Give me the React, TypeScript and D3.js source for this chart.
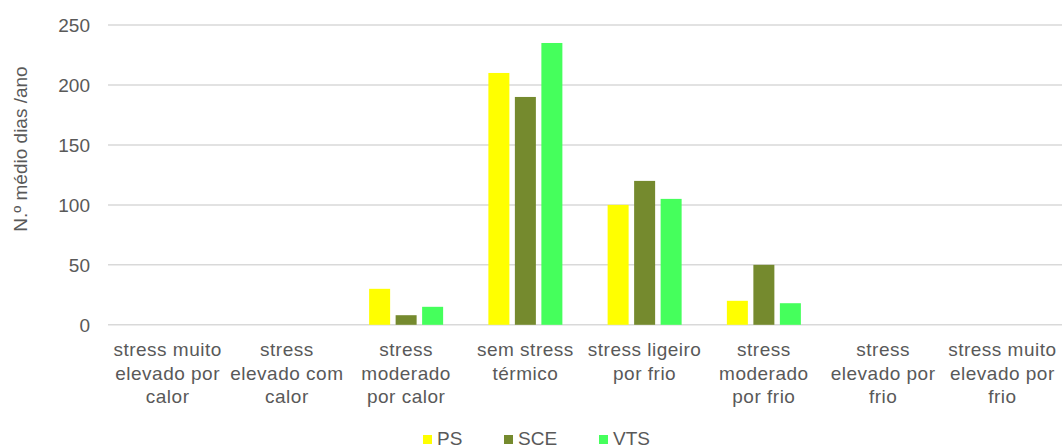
import React from "react";
import * as d3 from "d3";

const categories: string[][] = [
  ["stress muito", "elevado por", "calor"],
  ["stress", "elevado com", "calor"],
  ["stress", "moderado", "por calor"],
  ["sem stress", "térmico"],
  ["stress ligeiro", "por frio"],
  ["stress", "moderado", "por frio"],
  ["stress", "elevado por", "frio"],
  ["stress muito", "elevado por", "frio"],
];
const seriesNames = ["PS", "SCE", "VTS"];
const seriesColors = ["#FFFF00", "#758A2E", "#45FF5C"];
const psValues = [0, 0, 30, 210, 100, 20, 0, 0];
const sceValues = [0, 0, 8, 190, 120, 50, 0, 0];
const vtsValues = [0, 0, 15, 235, 105, 18, 0, 0];
const yTicks = [0, 50, 100, 150, 200, 250];
const yTitle = "N.º médio dias /ano";

const W = 1062;
const H = 448;
const FONT = "'Liberation Sans', Arial, sans-serif";
const TEXT = "#595959";

export default function App() {
  const seriesValues = [psValues, sceValues, vtsValues];
  const x = d3
    .scaleBand<number>()
    .domain(d3.range(categories.length))
    .range([108, 1062])
    .padding(0);
  const x1 = d3
    .scaleBand<string>()
    .domain(seriesNames)
    .range([-37, 37])
    .paddingInner(0.2075)
    .paddingOuter(0);
  const y = d3.scaleLinear().domain([0, 250]).range([324.8, 25]);

  const legendX = [423, 504, 599];

  return (
    <svg
      width={W}
      height={H}
      style={{ position: "absolute", left: 0, top: 0, background: "#fff" }}
      fontFamily={FONT}
    >
      {yTicks.map((t) => (
        <g key={t}>
          <line
            x1={108}
            x2={1062}
            y1={y(t)}
            y2={y(t)}
            stroke="#d9d9d9"
            strokeWidth={1.5}
          />
          <text
            x={90}
            y={y(t)}
            dy="0.36em"
            textAnchor="end"
            fontSize={19}
            fill={TEXT}
          >
            {t}
          </text>
        </g>
      ))}
      <text
        transform={`translate(27,149) rotate(-90)`}
        textAnchor="middle"
        fontSize={19}
        fill={TEXT}
      >
        {yTitle}
      </text>
      {categories.map((_, ci) =>
        seriesNames.map((s, si) => {
          const v = seriesValues[si][ci];
          if (!v) return null;
          const cx = (x(ci) as number) + x.bandwidth() / 2;
          return (
            <rect
              key={`${ci}-${si}`}
              x={cx + (x1(s) as number)}
              y={y(v)}
              width={x1.bandwidth()}
              height={y(0) - y(v)}
              fill={seriesColors[si]}
            />
          );
        })
      )}
      {categories.map((lines, ci) => {
        const cx = (x(ci) as number) + x.bandwidth() / 2;
        return (
          <text
            key={ci}
            textAnchor="middle"
            fontSize={19}
            letterSpacing={0.5}
            fill={TEXT}
          >
            {lines.map((l, li) => (
              <tspan key={li} x={cx} y={356 + li * 23.5}>
                {l}
              </tspan>
            ))}
          </text>
        );
      })}
      {seriesNames.map((s, i) => (
        <g key={s}>
          <rect x={legendX[i]} y={435} width={9} height={9} fill={seriesColors[i]} />
          <text x={legendX[i] + 14} y={445} fontSize={19} fill={TEXT}>
            {s}
          </text>
        </g>
      ))}
    </svg>
  );
}
